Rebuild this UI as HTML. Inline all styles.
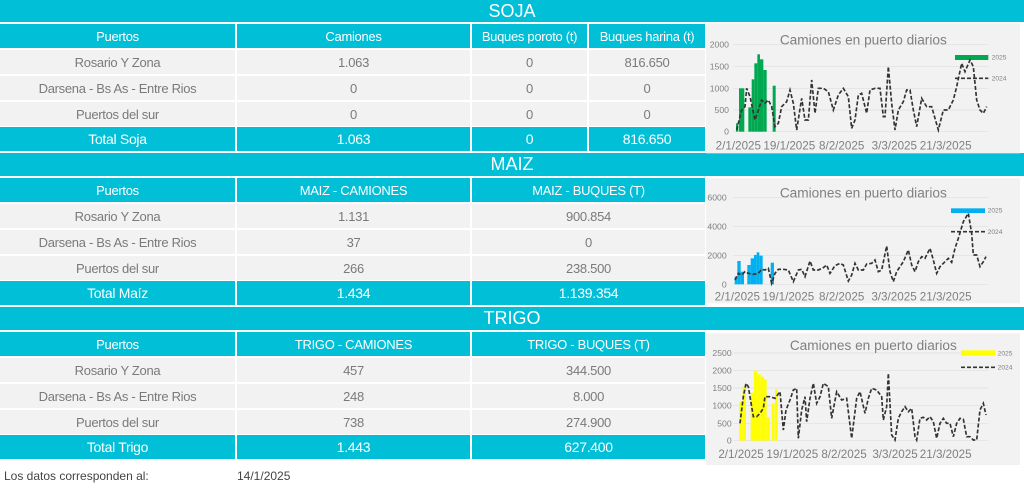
<!DOCTYPE html>
<html><head><meta charset="utf-8"><style>
*{margin:0;padding:0;box-sizing:border-box}
body{width:1024px;height:489px;background:#fff;position:relative;overflow:hidden;font-family:"Liberation Sans",sans-serif}
.bar{position:absolute;left:0;width:1024px;background:#00bfd6;color:#fff;text-align:center;font-size:18px;line-height:22px}
.c{position:absolute;display:flex;align-items:center;justify-content:center;font-size:13px;letter-spacing:-0.3px}
.h{background:#00bfd6;color:#fff}
.r{background:#f2f2f2;color:#7a7a7a}
.t{background:#00bfd6;color:#fff;font-size:14px}
svg{position:absolute}
</style></head><body>
<div class="bar" style="top:0;height:22px">SOJA</div>
<div class="bar" style="top:153px;height:23px">MAIZ</div>
<div class="bar" style="top:307px;height:23px">TRIGO</div>

<div class="c h" style="left:0;top:24px;width:235px;height:24px">Puertos</div>
<div class="c h" style="left:237px;top:24px;width:233px;height:24px">Camiones</div>
<div class="c h" style="left:472px;top:24px;width:115px;height:24px">Buques poroto (t)</div>
<div class="c h" style="left:589px;top:24px;width:116px;height:24px">Buques harina (t)</div>
<div class="c r" style="left:0;top:50px;width:235px;height:24px">Rosario Y Zona</div>
<div class="c r" style="left:237px;top:50px;width:233px;height:24px">1.063</div>
<div class="c r" style="left:472px;top:50px;width:115px;height:24px">0</div>
<div class="c r" style="left:589px;top:50px;width:116px;height:24px">816.650</div>
<div class="c r" style="left:0;top:76px;width:235px;height:24px">Darsena - Bs As - Entre Rios</div>
<div class="c r" style="left:237px;top:76px;width:233px;height:24px">0</div>
<div class="c r" style="left:472px;top:76px;width:115px;height:24px">0</div>
<div class="c r" style="left:589px;top:76px;width:116px;height:24px">0</div>
<div class="c r" style="left:0;top:102px;width:235px;height:24px">Puertos del sur</div>
<div class="c r" style="left:237px;top:102px;width:233px;height:24px">0</div>
<div class="c r" style="left:472px;top:102px;width:115px;height:24px">0</div>
<div class="c r" style="left:589px;top:102px;width:116px;height:24px">0</div>
<div class="c t" style="left:0;top:127px;width:235px;height:24px">Total Soja</div>
<div class="c t" style="left:237px;top:127px;width:233px;height:24px">1.063</div>
<div class="c t" style="left:472px;top:127px;width:115px;height:24px">0</div>
<div class="c t" style="left:589px;top:127px;width:116px;height:24px">816.650</div>

<div class="c h" style="left:0;top:178px;width:235px;height:24px">Puertos</div>
<div class="c h" style="left:237px;top:178px;width:233px;height:24px">MAIZ - CAMIONES</div>
<div class="c h" style="left:472px;top:178px;width:233px;height:24px">MAIZ - BUQUES (T)</div>
<div class="c r" style="left:0;top:204px;width:235px;height:24px">Rosario Y Zona</div>
<div class="c r" style="left:237px;top:204px;width:233px;height:24px">1.131</div>
<div class="c r" style="left:472px;top:204px;width:233px;height:24px">900.854</div>
<div class="c r" style="left:0;top:230px;width:235px;height:24px">Darsena - Bs As - Entre Rios</div>
<div class="c r" style="left:237px;top:230px;width:233px;height:24px">37</div>
<div class="c r" style="left:472px;top:230px;width:233px;height:24px">0</div>
<div class="c r" style="left:0;top:256px;width:235px;height:24px">Puertos del sur</div>
<div class="c r" style="left:237px;top:256px;width:233px;height:24px">266</div>
<div class="c r" style="left:472px;top:256px;width:233px;height:24px">238.500</div>
<div class="c t" style="left:0;top:281px;width:235px;height:24px">Total Maíz</div>
<div class="c t" style="left:237px;top:281px;width:233px;height:24px">1.434</div>
<div class="c t" style="left:472px;top:281px;width:233px;height:24px">1.139.354</div>

<div class="c h" style="left:0;top:332px;width:235px;height:24px">Puertos</div>
<div class="c h" style="left:237px;top:332px;width:233px;height:24px">TRIGO - CAMIONES</div>
<div class="c h" style="left:472px;top:332px;width:233px;height:24px">TRIGO - BUQUES (T)</div>
<div class="c r" style="left:0;top:358px;width:235px;height:24px">Rosario Y Zona</div>
<div class="c r" style="left:237px;top:358px;width:233px;height:24px">457</div>
<div class="c r" style="left:472px;top:358px;width:233px;height:24px">344.500</div>
<div class="c r" style="left:0;top:384px;width:235px;height:24px">Darsena - Bs As - Entre Rios</div>
<div class="c r" style="left:237px;top:384px;width:233px;height:24px">248</div>
<div class="c r" style="left:472px;top:384px;width:233px;height:24px">8.000</div>
<div class="c r" style="left:0;top:410px;width:235px;height:24px">Puertos del sur</div>
<div class="c r" style="left:237px;top:410px;width:233px;height:24px">738</div>
<div class="c r" style="left:472px;top:410px;width:233px;height:24px">274.900</div>
<div class="c t" style="left:0;top:435px;width:235px;height:24px">Total Trigo</div>
<div class="c t" style="left:237px;top:435px;width:233px;height:24px">1.443</div>
<div class="c t" style="left:472px;top:435px;width:233px;height:24px">627.400</div>

<div style="position:absolute;left:4px;top:469px;font-size:12px;color:#444">Los datos corresponden al:</div>
<div style="position:absolute;left:237px;top:469px;font-size:12px;color:#444">14/1/2025</div>

<svg style="left:700px;top:20px" width="324" height="135" viewBox="0 0 972 405">
<rect x="18" y="10" width="942" height="390" fill="#f2f2f2"/>
<g stroke="#dedede" stroke-width="2"><line x1="100" y1="73" x2="865" y2="73"/><line x1="100" y1="140" x2="865" y2="140"/><line x1="100" y1="205" x2="865" y2="205"/><line x1="100" y1="270" x2="865" y2="270"/><line x1="100" y1="335" x2="865" y2="335"/></g>
<g fill="#808080" font-size="26" text-anchor="end"><text x="87" y="82">2000</text><text x="87" y="148">1500</text><text x="87" y="214">1000</text><text x="87" y="279">500</text><text x="87" y="344">0</text></g>
<text x="490" y="74" fill="#808080" font-size="41" text-anchor="middle">Camiones en puerto diarios</text>
<g fill="#00a94f"><rect x="108" y="310" width="7" height="25"/><rect x="117" y="205" width="16" height="130"/><rect x="145" y="262" width="10" height="73"/><rect x="155" y="178" width="8" height="157"/><rect x="163" y="130" width="9" height="205"/><rect x="172" y="103" width="8" height="232"/><rect x="180" y="118" width="10" height="217"/><rect x="190" y="150" width="10" height="185"/><rect x="218" y="197" width="9" height="138"/><rect x="765" y="105" width="100" height="15"/></g>
<polyline fill="none" stroke="#333" stroke-width="5" stroke-dasharray="12,6" points="110,330 125,270 135,260 140,205 150,230 165,300 185,240 195,250 205,240 215,260 225,320 235,310 245,260 260,245 270,210 280,250 290,330 305,235 315,300 325,300 335,180 345,280 355,205 370,205 385,215 400,270 415,225 430,205 445,230 455,325 465,300 475,225 485,220 500,280 510,210 525,205 540,205 550,290 555,290 565,140 575,250 585,330 595,270 610,245 620,210 630,210 640,270 650,320 665,235 680,260 695,260 715,330 730,270 745,270 760,240 770,200 785,130 795,155 810,120 820,140 830,240 840,270 850,280 860,260"/>
<line x1="765" y1="175" x2="865" y2="175" stroke="#333" stroke-width="5" stroke-dasharray="12,6"/>
<g fill="#808080" font-size="20"><text x="875" y="119">2025</text><text x="875" y="182">2024</text></g>
<g fill="#808080" font-size="35" text-anchor="middle"><text x="115" y="388">2/1/2025</text><text x="268" y="388">19/1/2025</text><text x="425" y="388">8/2/2025</text><text x="583" y="388">3/3/2025</text><text x="737" y="388">21/3/2025</text></g>
</svg>

<svg style="left:700px;top:175px" width="324" height="135" viewBox="0 0 972 405">
<rect x="18" y="10" width="942" height="375" fill="#f2f2f2"/>
<g stroke="#dedede" stroke-width="2"><line x1="100" y1="67" x2="865" y2="67"/><line x1="100" y1="154" x2="865" y2="154"/><line x1="100" y1="241" x2="865" y2="241"/><line x1="100" y1="328" x2="865" y2="328"/></g>
<g fill="#808080" font-size="26" text-anchor="end"><text x="80" y="76">6000</text><text x="80" y="163">4000</text><text x="80" y="250">2000</text><text x="80" y="337">0</text></g>
<text x="490" y="68" fill="#808080" font-size="41" text-anchor="middle">Camiones en puerto diarios</text>
<g fill="#00b0f0"><rect x="104" y="305" width="8" height="23"/><rect x="112" y="258" width="10" height="70"/><rect x="122" y="290" width="10" height="38"/><rect x="142" y="270" width="10" height="58"/><rect x="152" y="250" width="10" height="78"/><rect x="162" y="240" width="8" height="88"/><rect x="170" y="232" width="8" height="96"/><rect x="178" y="242" width="10" height="86"/><rect x="212" y="263" width="10" height="65"/><rect x="753" y="100" width="102" height="14"/></g>
<polyline fill="none" stroke="#333" stroke-width="5" stroke-dasharray="12,6" points="105,315 115,295 125,300 135,290 145,295 160,298 175,295 185,283 195,285 205,280 215,325 225,295 235,283 250,283 265,285 280,320 295,285 305,283 315,305 330,258 340,285 355,285 370,278 380,270 390,295 405,272 420,265 430,270 445,318 455,300 465,265 475,285 490,285 500,267 515,265 525,255 535,290 545,285 560,213 570,290 580,320 590,290 600,275 610,260 625,225 635,270 645,290 655,260 665,245 675,250 690,220 700,255 710,295 720,275 735,260 745,250 755,262 765,220 775,190 790,140 805,115 815,175 820,240 830,240 840,275 850,260 858,245"/>
<line x1="753" y1="170" x2="855" y2="170" stroke="#333" stroke-width="5" stroke-dasharray="12,6"/>
<g fill="#808080" font-size="20"><text x="863" y="113">2025</text><text x="863" y="177">2024</text></g>
<g fill="#808080" font-size="35" text-anchor="middle"><text x="112" y="376">2/1/2025</text><text x="265" y="376">19/1/2025</text><text x="425" y="376">8/2/2025</text><text x="582" y="376">3/3/2025</text><text x="737" y="376">21/3/2025</text></g>
</svg>

<svg style="left:700px;top:330px" width="324" height="140" viewBox="0 0 972 420">
<rect x="18" y="10" width="942" height="395" fill="#f2f2f2"/>
<g stroke="#dedede" stroke-width="2"><line x1="100" y1="69" x2="865" y2="69"/><line x1="100" y1="122" x2="865" y2="122"/><line x1="100" y1="174" x2="865" y2="174"/><line x1="100" y1="227" x2="865" y2="227"/><line x1="100" y1="280" x2="865" y2="280"/><line x1="100" y1="332" x2="865" y2="332"/></g>
<g fill="#808080" font-size="26" text-anchor="end"><text x="95" y="78">2500</text><text x="95" y="131">2000</text><text x="95" y="183">1500</text><text x="95" y="236">1000</text><text x="95" y="289">500</text><text x="95" y="341">0</text></g>
<text x="520" y="60" fill="#808080" font-size="41" text-anchor="middle">Camiones en puerto diarios</text>
<g fill="#ffff00"><rect x="118" y="215" width="10" height="117"/><rect x="128" y="170" width="10" height="162"/><rect x="152" y="188" width="10" height="144"/><rect x="162" y="122" width="10" height="210"/><rect x="172" y="133" width="10" height="199"/><rect x="182" y="140" width="10" height="192"/><rect x="192" y="148" width="8" height="184"/><rect x="200" y="262" width="10" height="70"/><rect x="215" y="220" width="9" height="112"/><rect x="225" y="178" width="8" height="154"/><rect x="783" y="61" width="103" height="16"/></g>
<polyline fill="none" stroke="#333" stroke-width="5" stroke-dasharray="12,6" points="120,280 130,200 138,160 145,170 160,260 170,260 180,250 190,235 195,200 210,200 225,205 240,185 250,300 258,240 262,230 270,210 280,180 290,175 295,325 305,240 315,200 320,275 330,205 340,160 350,220 360,200 370,160 385,170 395,265 410,185 425,210 440,205 455,325 470,205 480,185 495,250 505,205 515,175 530,180 545,200 550,270 560,230 565,130 575,315 585,330 595,265 605,245 615,230 625,245 635,235 645,320 650,330 660,265 670,262 680,270 690,260 700,275 710,325 720,280 730,265 740,280 750,280 760,320 770,280 780,265 790,268 800,320 810,320 820,330 830,330 840,240 850,220 858,255"/>
<line x1="783" y1="112" x2="886" y2="112" stroke="#333" stroke-width="5" stroke-dasharray="12,6"/>
<g fill="#808080" font-size="20"><text x="893" y="76">2025</text><text x="893" y="119">2024</text></g>
<g fill="#808080" font-size="35" text-anchor="middle"><text x="123" y="384">2/1/2025</text><text x="277" y="384">19/1/2025</text><text x="432" y="384">8/2/2025</text><text x="585" y="384">3/3/2025</text><text x="737" y="384">21/3/2025</text></g>
</svg>
</body></html>
